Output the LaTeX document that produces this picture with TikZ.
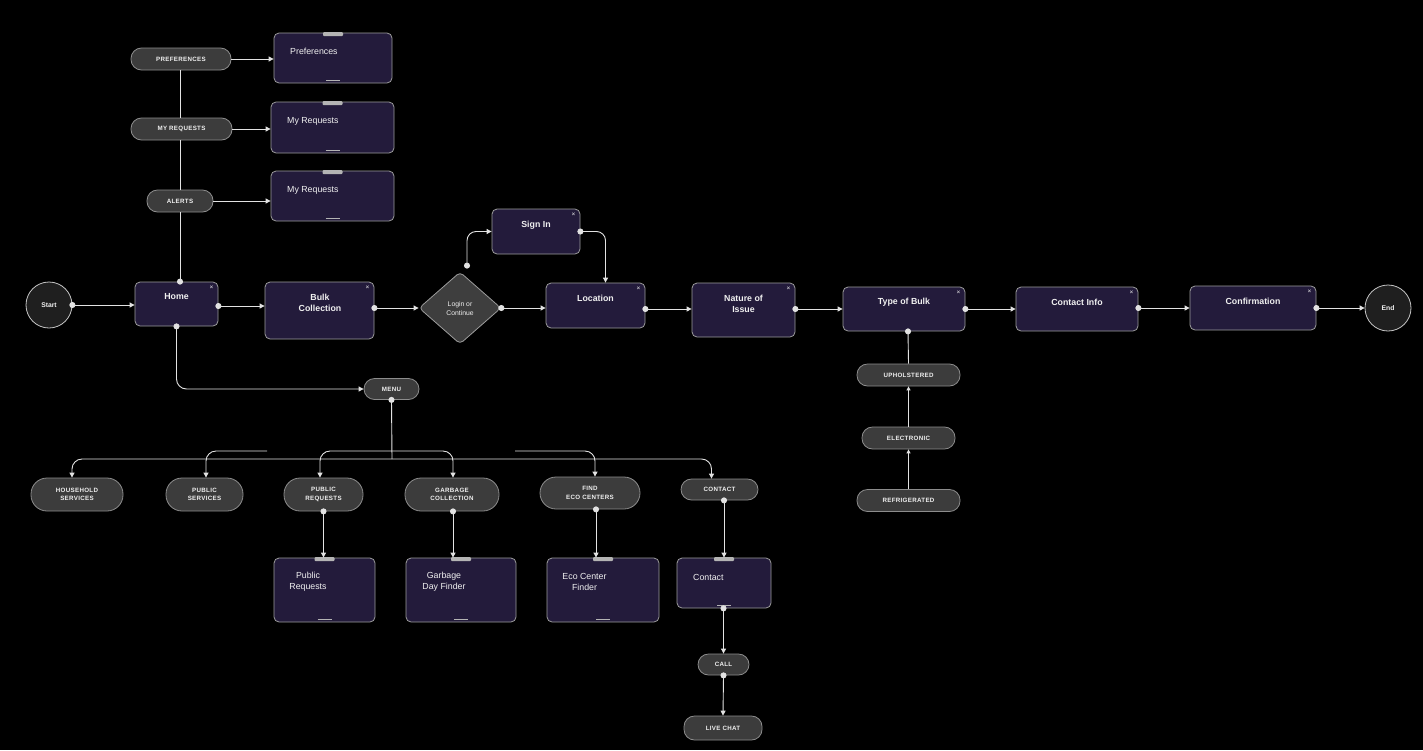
\documentclass[tikz,border=0pt]{standalone}
\usepackage{fontspec}
\setmainfont{Liberation Sans}
\newfontfamily\capsfont[LetterSpace=5]{Liberation Sans}
\usetikzlibrary{arrows.meta,shapes.geometric,calc}
\definecolor{scrc}{HTML}{231B3B}
\definecolor{bordc}{HTML}{9C9C9C}
\definecolor{pillc}{HTML}{3C3C3C}
\definecolor{pillb}{HTML}{8C8C8C}
\definecolor{circc}{HTML}{1F1F1F}
\definecolor{circb}{HTML}{C4C4C4}
\definecolor{diac}{HTML}{3E3E3E}
\definecolor{linec}{HTML}{E2E2E2}
\definecolor{tabc}{HTML}{B4B4B4}
\definecolor{txtc}{HTML}{F0F0F0}
\begin{document}
\begin{tikzpicture}[x=1pt,y=-1pt,
  screen/.style={draw=bordc, fill=scrc, rounded corners=5pt, line width=0.8pt, inner sep=0pt},
  pill/.style={draw=pillb, fill=pillc, rounded corners=10.5pt, line width=0.8pt, inner sep=0pt,
    text=txtc, align=center, font=\capsfont\bfseries\fontsize{6.2}{8.5}\selectfont},
  pilltwo/.style={pill, rounded corners=16pt},
  circ/.style={circle, draw=circb, fill=circc, line width=0.8pt, minimum size=46pt, inner sep=0pt,
    text=txtc, font=\bfseries\fontsize{6.8}{8}\selectfont},
  title/.style={text=txtc, align=center, font=\bfseries\fontsize{8.8}{11}\selectfont, inner sep=0pt},
  stext/.style={text=txtc, align=center, font=\fontsize{8.8}{11}\selectfont, inner sep=0pt},
  xmark/.style={text=txtc, font=\fontsize{6.5}{6.5}\selectfont, inner sep=0pt},
  conn/.style={draw=linec, line width=0.9pt},
  flow/.style={conn, -{Triangle[length=5pt,width=5pt]}},
  dflow/.style={conn, {Circle[length=6pt]}-{Triangle[length=5pt,width=5pt]}, shorten <=-3pt},
  dline/.style={conn, {Circle[length=6pt]}-, shorten <=-3pt},
  bflow/.style={conn, {Triangle[length=5pt,width=5pt]}-{Triangle[length=5pt,width=5pt]}}
]
\fill[black] (0,0) rectangle (1423,750);
\useasboundingbox (0,0) rectangle (1423,750);

% ---------- top-left ----------
\node[pill, minimum width=100pt, minimum height=22pt] (pref) at (181,59) {PREFERENCES};
\node[pill, minimum width=101pt, minimum height=22pt] (myreq) at (181.5,129) {MY REQUESTS};
\node[pill, minimum width=66pt, minimum height=22pt] (alerts) at (180,201) {ALERTS};
\node[screen, minimum width=118pt, minimum height=50pt] (prefbox) at (333,58) {};
\node[screen, minimum width=123pt, minimum height=51pt] (myreqbox) at (332.5,127.5) {};
\node[screen, minimum width=123pt, minimum height=50pt] (alertsbox) at (332.5,196) {};
\node[stext, anchor=west] (prefboxt) at (290,51) {Preferences};
\node[stext, anchor=west] (myreqboxt) at (287,121) {My Requests};
\node[stext, anchor=west] (alertsboxt) at (287,190) {My Requests};

% ---------- main flow ----------
\node[circ] (start) at (49,305) {Start};
\node[screen, minimum width=83pt, minimum height=44pt] (home) at (176.5,304) {};
\node[screen, minimum width=109pt, minimum height=57pt] (bulk) at (319.5,310.5) {};
\node[diamond, draw=bordc, fill=diac, line width=0.8pt, rounded corners=4pt, minimum width=82pt,
  minimum height=72pt, inner sep=0pt] (diamond) at (460,308) {};
\node[screen, minimum width=88pt, minimum height=45pt] (signin) at (536,231.5) {};
\node[screen, minimum width=99pt, minimum height=45pt] (location) at (595.5,305.5) {};
\node[screen, minimum width=103pt, minimum height=54pt] (nature) at (743.5,310) {};
\node[screen, minimum width=122pt, minimum height=44pt] (typebulk) at (904,309) {};
\node[screen, minimum width=122pt, minimum height=44pt] (contactinfo) at (1077,309) {};
\node[screen, minimum width=126pt, minimum height=44pt] (confirm) at (1253,308) {};
\node[circ] (end) at (1388,308) {End};

\node[title] (homet) at (176.5,297) {Home};
\node[title] (bulkt) at (320,302.5) {Bulk\\Collection};
\node[text=txtc, align=center, font=\fontsize{6.8}{8.5}\selectfont, inner sep=0pt] (diat) at (460,308.5) {Login or\\Continue};
\node[title] (signint) at (536,225) {Sign In};
\node[title] (locationt) at (595.5,298) {Location};
\node[title] (naturet) at (743.5,303.5) {Nature of\\Issue};
\node[title] (typebulkt) at (904,302) {Type of Bulk};
\node[title] (contactinfot) at (1077,302) {Contact Info};
\node[title] (confirmt) at (1253,301) {Confirmation};

\foreach \n in {home,bulk,signin,location,nature,typebulk,contactinfo,confirm}
  \node[xmark] (\n x) at ($(\n.north east)+(-7,6)$) {×};

% ---------- bulk types ----------
\node[pill, minimum width=103pt, minimum height=22pt] (uph) at (908.5,375) {UPHOLSTERED};
\node[pill, minimum width=93pt, minimum height=22pt] (elec) at (908.5,438) {ELECTRONIC};
\node[pill, minimum width=103pt, minimum height=22pt] (refr) at (908.5,500.5) {REFRIGERATED};

% ---------- menu ----------
\node[pill, minimum width=55pt, minimum height=21pt] (menu) at (391.5,389) {MENU};
\node[pilltwo, minimum width=92pt, minimum height=33pt] (household) at (77,494.5) {HOUSEHOLD\\SERVICES};
\node[pilltwo, minimum width=77pt, minimum height=33pt] (pubserv) at (204.5,494.5) {PUBLIC\\SERVICES};
\node[pilltwo, minimum width=79pt, minimum height=33pt] (pubreq) at (323.5,494.5) {PUBLIC\\REQUESTS};
\node[pilltwo, minimum width=94pt, minimum height=33pt] (garbage) at (452,494.5) {GARBAGE\\COLLECTION};
\node[pilltwo, minimum width=100pt, minimum height=32pt] (findeco) at (590,493) {FIND\\ECO CENTERS};
\node[pill, minimum width=77pt, minimum height=21pt] (contactpill) at (719.5,489.5) {CONTACT};

\node[screen, minimum width=101pt, minimum height=64pt] (pubreqbox) at (324.5,590) {};
\node[screen, minimum width=110pt, minimum height=64pt] (garbagebox) at (461,590) {};
\node[screen, minimum width=112pt, minimum height=64pt] (ecobox) at (603,590) {};
\node[screen, minimum width=94pt, minimum height=50pt] (contactbox) at (724,583) {};
\node[stext] (pubreqboxt) at (308,581.5) {Public\\Requests};
\node[stext] (garbageboxt) at (444,582) {Garbage\\Day Finder};
\node[stext] (ecoboxt) at (584.5,582) {Eco Center\\Finder};
\node[stext, anchor=west] (contactboxt) at (693,577) {Contact};

\node[pill, minimum width=51pt, minimum height=21pt] (call) at (723.5,664.5) {CALL};
\node[pill, minimum width=78pt, minimum height=24pt] (livechat) at (723,728) {LIVE CHAT};

% screen decorations
\foreach \n in {prefbox,myreqbox,alertsbox,pubreqbox,garbagebox,ecobox,contactbox}{
  \fill[tabc, rounded corners=1pt] ($(\n.north)+(-10,-0.4)$) rectangle ($(\n.north)+(10,3.5)$);
  \draw[tabc, line width=1.1pt] ($(\n.south)+(-7,-3)$) -- ($(\n.south)+(7,-3)$);
}

% ---------- connectors ----------
\draw[conn] (alerts.north |- pref.south) -- (alerts.north |- myreq.north);
\draw[conn] (alerts.north |- myreq.south) -- (alerts.north);
\draw[conn, -{Circle[length=6pt]}, shorten >=-3pt] (alerts.south) -- (alerts.south |- home.north);
\draw[flow] (pref.east) -- (pref.east -| prefbox.west);
\draw[flow] (myreq.east) -- (myreq.east -| myreqbox.west);
\draw[flow] (alerts.east) -- (alerts.east -| alertsbox.west);

\draw[dflow] (start.east) -- (start.east -| home.west);
\draw[dflow] ($(home.east)+(0,2)$) -- ($(home.east -| bulk.west)+(0,2)$);
\draw[dflow] (bulk.east |- diamond.west) -- (diamond.west);
\draw[dflow] (diamond.east) -- (diamond.east -| location.west);
\draw[dflow] ($(location.east)+(0,3.5)$) -- ($(location.east -| nature.west)+(0,3.5)$);
\draw[dflow] (nature.east |- typebulk.west) -- (typebulk.west);
\draw[dflow] (typebulk.east) -- (contactinfo.west);
\draw[dflow] (contactinfo.east |- confirm.west) -- (confirm.west);
\draw[dflow] (confirm.east) -- (end.west);

\coordinate (signfrom) at ($(diamond.north)+(7,-6)$);
\draw[dflow, rounded corners=9pt] (signfrom) |- (signin.west);
\draw[dflow, rounded corners=9pt] (signin.east) -| ($(location.north)+(10,0)$);

\draw[dline] ($(typebulk.south)+(4,0)$) -- (uph.north);
\draw[conn, -{Triangle[length=4pt,width=4pt]}] (elec.north) -- (uph.south);
\draw[conn, -{Triangle[length=4pt,width=4pt]}] (refr.north) -- (elec.south);

\draw[dflow, rounded corners=10pt] (home.south) |- (menu.west);
\coordinate (bus) at (392,459);
\coordinate (stubA) at (267,451);
\coordinate (stubB) at (392,451);
\coordinate (stubC) at (515,451);
\draw[dline] (menu.south) -- (bus);
\draw[bflow, rounded corners=10pt] ($(household.north)+(-5,0)$) |- (bus) -| ($(contactpill.north)+(-8,0)$);
\draw[flow, rounded corners=10pt] (stubA) -| ($(pubserv.north)+(1.5,0)$);
\draw[bflow, rounded corners=10pt] ($(pubreq.north)+(-3.5,0)$) |- (stubB) -| ($(garbage.north)+(1,0)$);
\draw[flow, rounded corners=10pt] (stubC) -| ($(findeco.north)+(5,0)$);

\draw[dflow] (pubreq.south) -- (pubreq.south |- pubreqbox.north);
\draw[dflow] ($(garbage.south)+(1,0)$) -- ($(garbage.south |- garbagebox.north)+(1,0)$);
\draw[dflow] ($(findeco.south)+(6,0)$) -- ($(findeco.south |- ecobox.north)+(6,0)$);
\draw[dflow] (contactbox.north |- contactpill.south) -- (contactbox.north);
\draw[dflow] (call.north |- contactbox.south) -- (call.north);
\draw[dflow] (call.south) -- (livechat.north);
\end{tikzpicture}
\end{document}
